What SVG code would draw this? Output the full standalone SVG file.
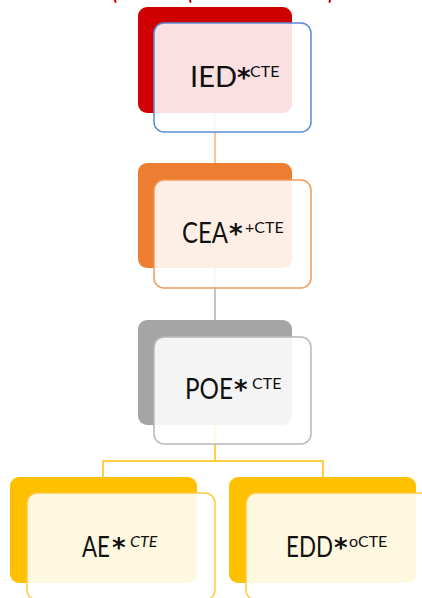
<svg xmlns="http://www.w3.org/2000/svg" width="422" height="598" viewBox="0 0 422 598">
<style>
.back{stroke:none}
.front{fill:#ffffff;fill-opacity:0.88;stroke-width:1.5}
.conn{fill:none;stroke-width:1.5}
.lbl{font-family:Lato,"Open Sans","Liberation Sans",sans-serif;font-size:28px;fill:#111111}
.ast{font-family:"DejaVu Sans",sans-serif;font-size:26px;font-weight:bold}
.sup{font-size:16px}
</style>
<rect width="422" height="598" fill="#ffffff"/>
<g id="title-fragments" stroke="#d00000" stroke-width="2" stroke-linecap="round">
<line x1="115" y1="0" x2="115.5" y2="2"/>
<line x1="190" y1="0" x2="190.5" y2="2"/>
<line x1="330" y1="0" x2="329.5" y2="2"/>
</g>
<g id="backs">
<rect class="back" x="138" y="7" width="154" height="106" rx="9" fill="#d00000"/>
<rect class="back" x="138" y="163" width="154" height="105" rx="9" fill="#ed7d31"/>
<rect class="back" x="138" y="320" width="154" height="105" rx="9" fill="#a5a5a5"/>
<rect class="back" x="10" y="477" width="187" height="106" rx="9" fill="#ffc000"/>
<rect class="back" x="229" y="477" width="187" height="106" rx="9" fill="#ffc000"/>
</g>
<g id="connectors">
<path class="conn" d="M215,113 V163" stroke="#f4b183"/>
<path class="conn" d="M215,268 V320" stroke="#b0b0b0"/>
<path class="conn" d="M215,425 V461 M103,477 V461 H323 V477" stroke="#ffc000"/>
</g>
<g id="IED">
<rect class="front" x="154" y="23" width="157" height="109" rx="10" stroke="#5b8bd5"/>
<text class="lbl" y="87"><tspan x="190" textLength="47" lengthAdjust="spacingAndGlyphs">IED</tspan><tspan class="ast" x="237" y="87">*</tspan><tspan class="sup" x="250" y="77">CTE</tspan></text>
</g>
<g id="CEA">
<rect class="front" x="154" y="180" width="157" height="108" rx="10" stroke="#f19a5c"/>
<text class="lbl" y="243"><tspan x="182" textLength="46" lengthAdjust="spacingAndGlyphs">CEA</tspan><tspan class="ast" x="229" y="243">*</tspan><tspan class="sup" x="245" y="233">+CTE</tspan></text>
</g>
<g id="POE">
<rect class="front" x="154" y="337" width="157" height="107" rx="10" stroke="#b8b8b8"/>
<text class="lbl" y="399"><tspan x="185" textLength="48" lengthAdjust="spacingAndGlyphs">POE</tspan><tspan class="ast" x="234" y="399">*</tspan><tspan class="sup" x="252" y="389">CTE</tspan></text>
</g>
<g id="AE">
<rect class="front" x="27" y="493" width="188" height="107" rx="10" stroke="#ffc940"/>
<text class="lbl" y="557"><tspan x="82" textLength="28" lengthAdjust="spacingAndGlyphs">AE</tspan><tspan class="ast" x="112" y="557">*</tspan><tspan class="sup" x="130" y="547" font-style="italic">CTE</tspan></text>
</g>
<g id="EDD">
<rect class="front" x="246" y="493" width="188" height="107" rx="10" stroke="#ffc940"/>
<text class="lbl" y="557"><tspan x="286" textLength="47" lengthAdjust="spacingAndGlyphs">EDD</tspan><tspan class="ast" x="334" y="557">*</tspan><tspan class="sup" x="349" y="547">oCTE</tspan></text>
</g>
</svg>
